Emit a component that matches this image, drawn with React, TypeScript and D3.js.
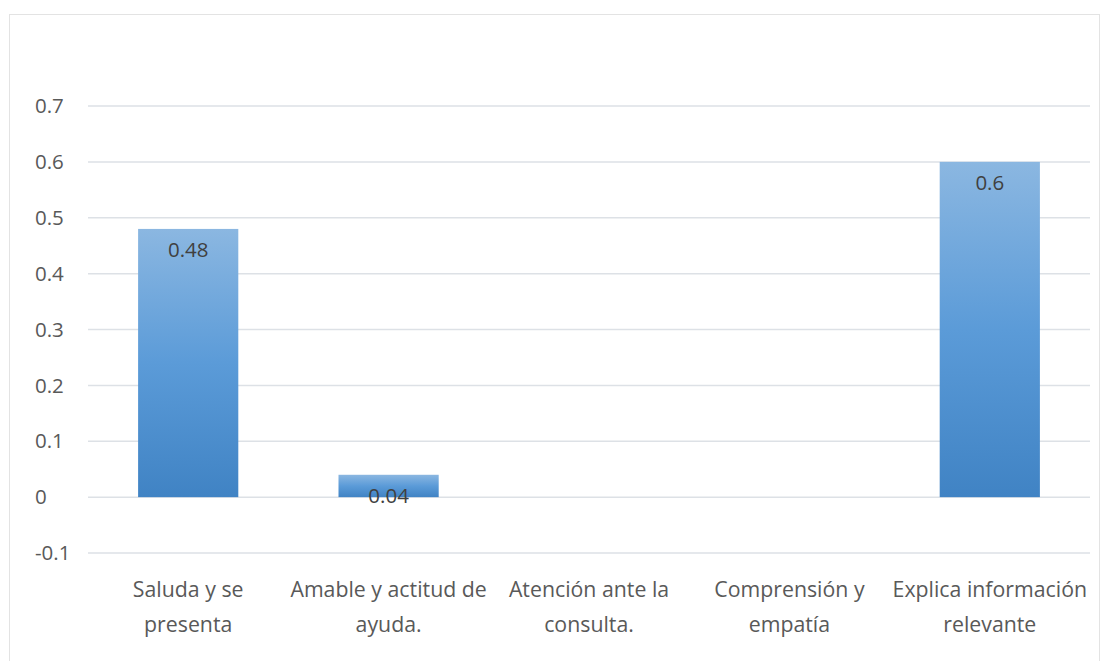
import React from "react";
import * as d3 from "d3";

const categories = [
  ["Saluda y se", "presenta"],
  ["Amable y actitud de", "ayuda."],
  ["Atención ante la", "consulta."],
  ["Comprensión y", "empatía"],
  ["Explica información", "relevante"],
];
const values: (number | null)[] = [0.48, 0.04, null, null, 0.6];
const yTicks = [-0.1, 0, 0.1, 0.2, 0.3, 0.4, 0.5, 0.6, 0.7];

const W = 1102;
const H = 661;
const left = 88;
const right = 1090;
const yTop = 106;
const yBottom = 553;

export default function App() {
  const x = d3
    .scaleBand<number>()
    .domain(categories.map((_, i) => i))
    .range([left, right])
    .paddingInner(0.5)
    .paddingOuter(0.25);
  const y = d3.scaleLinear().domain([-0.1, 0.7]).range([yBottom, yTop]);
  const font = "'Open Sans', sans-serif";
  const textColor = "#595959";
  const fmt = (t: number) => String(Math.round(t * 10) / 10);

  return (
    <svg
      width={W}
      height={H}
      style={{ position: "absolute", left: 0, top: 0, background: "#fff" }}
    >
      <defs>
        <linearGradient id="barGrad" x1="0" y1="0" x2="0" y2="1">
          <stop offset="0%" stopColor="#8bb7e1" />
          <stop offset="50%" stopColor="#5b9bd8" />
          <stop offset="100%" stopColor="#4083c4" />
        </linearGradient>
      </defs>
      <rect x={9.5} y={14.5} width={1090} height={H} fill="#fff" stroke="#e3e3e3" />
      {yTicks.map((t) => (
        <g key={t}>
          <line
            x1={left}
            x2={right}
            y1={y(t)}
            y2={y(t)}
            stroke="#dde1e6"
            strokeWidth={1.5}
          />
          <text
            x={35}
            y={y(t)}
            dy="0.35em"
            fontFamily={font}
            fontSize={20.5}
            fill={textColor}
          >
            {fmt(t)}
          </text>
        </g>
      ))}
      {values.map((v, i) => {
        if (v === null) return null;
        const bx = x(i)!;
        const top = y(Math.max(v, 0));
        const base = y(0);
        return (
          <g key={i}>
            <rect
              x={bx}
              y={top}
              width={x.bandwidth()}
              height={base - top}
              fill="url(#barGrad)"
            />
            <text
              x={bx + x.bandwidth() / 2}
              y={top + 21}
              dy="0.35em"
              textAnchor="middle"
              fontFamily={font}
              fontSize={20.5}
              fill="#404040"
            >
              {String(v)}
            </text>
          </g>
        );
      })}
      {categories.map((lines, i) => (
        <text
          key={i}
          x={x(i)! + x.bandwidth() / 2}
          textAnchor="middle"
          fontFamily={font}
          fontSize={21.3}
          fill={textColor}
        >
          {lines.map((l, j) => (
            <tspan key={j} x={x(i)! + x.bandwidth() / 2} y={590 + j * 35} dy="0.35em">
              {l}
            </tspan>
          ))}
        </text>
      ))}
    </svg>
  );
}
